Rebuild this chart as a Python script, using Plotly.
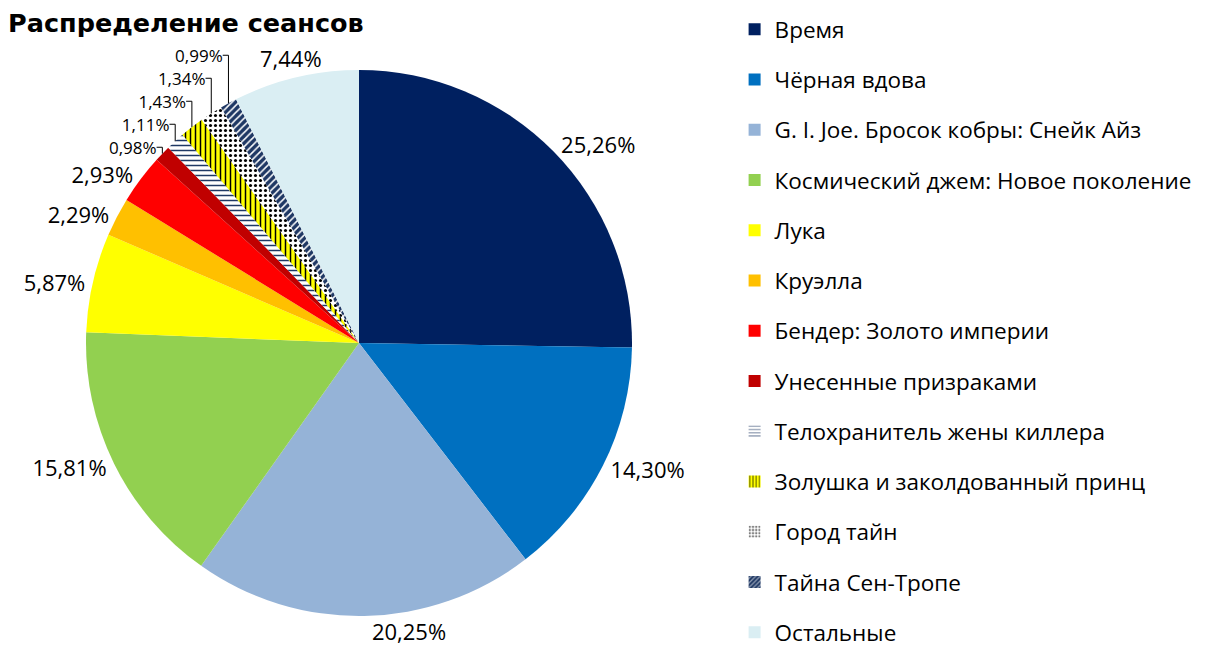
import math
import plotly.graph_objects as go

# ── Data ──
films = [
    "Время",
    "Чёрная вдова",
    "G. I. Joe. Бросок кобры: Снейк Айз",
    "Космический джем: Новое поколение",
    "Лука",
    "Круэлла",
    "Бендер: Золото империи",
    "Унесенные призраками",
    "Телохранитель жены киллера",
    "Золушка и заколдованный принц",
    "Город тайн",
    "Тайна Сен-Тропе",
    "Остальные",
]
shares = [25.26, 14.30, 20.25, 15.81, 5.87, 2.29, 2.93, 0.98, 1.11, 1.43, 1.34, 0.99, 7.44]

colors = ["#002060", "#0070C0", "#95B3D7", "#92D050", "#FFFF00", "#FFC000",
          "#FF0000", "#C00000", "#FFFFFF", "#FFFF00", "#FFFFFF", "#1F3864", "#DAEEF3"]
shapes = ["", "", "", "", "", "", "", "", "-", "|", ".", "/", ""]
fg = ["#000000"] * 8 + ["#1F3864", "#000000", "#000000", "#FFFFFF", "#000000"]

labels_txt = [f"{v:.2f}".replace(".", ",") + "%" for v in shares]
text_sizes = [22 if v >= 2 else 17 for v in shares]

# the page adds an 8px body margin, so the pie box is placed 8px up/left
W, H = 1211, 664
cx, cy, r = 351, 335, 273

# last slice label is placed on its own, so plotly's label stacking
# does not push it into the title
pie_text = labels_txt[:-1] + [""]
total = sum(shares)
mid = (total - shares[-1] / 2) / total * 2 * math.pi  # clockwise from 12 o'clock
lab_r = r + 20
last_x = (cx + lab_r * math.sin(mid)) / W
last_y = (H - (cy - lab_r * math.cos(mid))) / H

fig = go.Figure()
fig.add_trace(go.Pie(
    labels=films,
    values=shares,
    text=pie_text,
    textinfo="text",
    textposition="outside",
    textfont=dict(family="Open Sans", size=text_sizes, color="#000000"),
    sort=False,
    direction="clockwise",
    rotation=0,
    marker=dict(
        colors=colors,
        line=dict(width=0),
        pattern=dict(shape=shapes, fgcolor=fg, bgcolor=colors, size=5, solidity=0.3),
    ),
    domain=dict(x=[(cx - r) / W, (cx + r) / W], y=[(H - cy - r) / H, (H - cy + r) / H]),
    hoverinfo="label+text",
    showlegend=False,
))

fig.add_annotation(
    x=last_x, y=last_y, xref="paper", yref="paper",
    xanchor="center", yanchor="middle",
    text=labels_txt[-1], showarrow=False,
    font=dict(family="Open Sans", size=22, color="#000000"),
)

# legend entries (one group per film so the spacing can be set)
for i, name in enumerate(films):
    fig.add_trace(go.Bar(
        x=[None], y=[None], name=name, legendgroup=str(i),
        marker=dict(color=colors[i], line=dict(width=0),
                    pattern=dict(shape=shapes[i], fgcolor=fg[i], bgcolor=colors[i],
                                 size=4, solidity=0.4)),
        hoverinfo="skip",
    ))

fig.update_layout(
    width=W,
    height=H,
    paper_bgcolor="white",
    plot_bgcolor="white",
    margin=dict(l=0, r=0, t=0, b=0),
    title=dict(text="<b>Распределение сеансов</b>", x=0, xanchor="left",
               y=0.978, yanchor="middle",
               font=dict(family="DejaVu Sans", size=25.5, color="#000000")),
    legend=dict(x=0.6, xanchor="left", y=1, yanchor="top",
                font=dict(family="Open Sans", size=22.5, color="#000000"),
                traceorder="grouped", tracegroupgap=18),
    xaxis=dict(visible=False, domain=[0.99, 1]),
    yaxis=dict(visible=False, domain=[0, 0.01]),
    showlegend=True,
)

fig.write_html("out.html")
